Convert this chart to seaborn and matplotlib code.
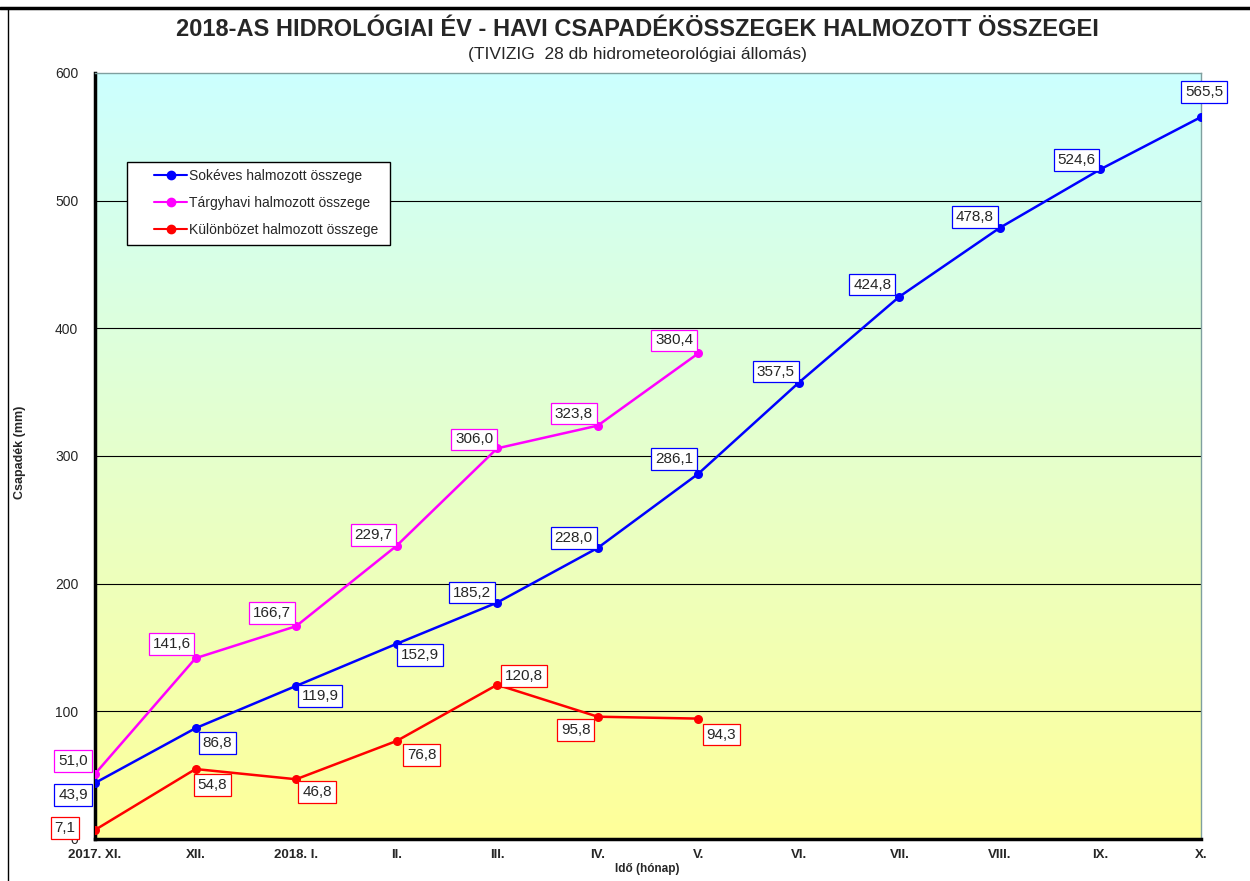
import numpy as np
import pandas as pd
import matplotlib
matplotlib.use("Agg")
import matplotlib.pyplot as plt
import seaborn as sns
from matplotlib.lines import Line2D
from matplotlib.patches import Rectangle
from matplotlib.colors import LinearSegmentedColormap

# ===================== 数据 =====================
honapok = ["2017. XI.", "XII.", "2018. I.", "II.", "III.", "IV.",
           "V.", "VI.", "VII.", "VIII.", "IX.", "X."]
sokeves = [43.9, 86.8, 119.9, 152.9, 185.2, 228.0, 286.1, 357.5, 424.8, 478.8, 524.6, 565.5]
targyhavi = [51.0, 141.6, 166.7, 229.7, 306.0, 323.8, 380.4]
kulonbseg = [7.1, 54.8, 46.8, 76.8, 120.8, 95.8, 94.3]

nev_sok = "Sokéves halmozott összege"
nev_targy = "Tárgyhavi halmozott összege"
nev_kul = "Különbözet halmozott összege"

# címke eltolások (pixel, felfelé pozitív)
off_sok = [(-22, -12), (22, -15), (24, -10), (23, -11), (-25, 10), (-24, 10),
           (-24, 15), (-23, 11), (-27, 12), (-25, 11), (-24, 9), (3, 25)]
off_targy = [(-22, 13), (-24, 14), (-24, 13), (-23, 11), (-23, 9), (-24, 12), (-24, 13)]
off_kul = [(-30, 2), (17, -16), (21, -13), (25, -14), (27, 9), (-22, -13), (23, -16)]

df = pd.concat([
    pd.DataFrame({"x": range(len(sokeves)), "y": sokeves, "sor": nev_sok}),
    pd.DataFrame({"x": range(len(targyhavi)), "y": targyhavi, "sor": nev_targy}),
    pd.DataFrame({"x": range(len(kulonbseg)), "y": kulonbseg, "sor": nev_kul}),
])
szinek = {nev_sok: "#0000FF", nev_targy: "#FF00FF", nev_kul: "#FF0000"}

sns.set_style("white")
plt.rcParams["font.family"] = ["Liberation Sans", "DejaVu Sans"]

W, H = 1250, 881
fig = plt.figure(figsize=(12.5, 8.81), dpi=100)
ax = fig.add_axes([95 / W, 1 - 839 / H, (1201 - 95) / W, (839 - 73) / H])

# háttér színátmenet
cmap = LinearSegmentedColormap.from_list("bg", ["#FFFF99", "#CCFFFF"])
grad = np.linspace(0, 1, 256).reshape(-1, 1)
ax.imshow(grad, extent=[0, 11, 0, 600], origin="lower", cmap=cmap,
          aspect="auto", zorder=0)

for v in range(100, 600, 100):
    ax.axhline(v, color="black", lw=0.8, zorder=1)

sns.lineplot(data=df, x="x", y="y", hue="sor", palette=szinek, marker="o",
             markersize=6.5, markeredgewidth=0, linewidth=1.8, sort=False,
             ax=ax, legend=False, zorder=3)

for adat, offs, nev in [(sokeves, off_sok, nev_sok), (targyhavi, off_targy, nev_targy),
                        (kulonbseg, off_kul, nev_kul)]:
    for i, (v, o) in enumerate(zip(adat, offs)):
        ax.annotate(f"{v:.1f}".replace(".", ","), (i, v), xytext=o,
                    textcoords="offset pixels", ha="center", va="center",
                    fontsize=11, zorder=5,
                    bbox=dict(boxstyle="square,pad=0.25", fc="white",
                              ec=szinek[nev], lw=0.9))

ax.set_xlim(0, 11)
ax.set_ylim(0, 600)
ax.set_xticks(range(len(honapok)))
ax.set_xticklabels(honapok, fontsize=9.5, fontweight="bold")
ax.set_yticks(range(0, 700, 100))
ax.tick_params(axis="y", labelsize=10, direction="out", length=4, width=1.5, pad=8)
ax.tick_params(axis="x", direction="out", length=3, width=1.5, pad=4)
ax.set_xlabel("")
ax.set_ylabel("")

for s in ["left", "bottom"]:
    ax.spines[s].set_linewidth(2.5)
    ax.spines[s].set_color("black")
for s in ["top", "right"]:
    ax.spines[s].set_linewidth(1)
    ax.spines[s].set_color("#7F9F9F")

# jelmagyarázat kézi kerettel
fig.add_artist(Rectangle((127 / W, 1 - 245 / H), (390 - 127) / W, (245 - 162) / H,
                         transform=fig.transFigure, fc="white", ec="black", lw=1, zorder=4))
handles = [Line2D([], [], color=szinek[n], marker="o", lw=1.5, markersize=6)
           for n in [nev_sok, nev_targy, nev_kul]]
leg = fig.legend(handles, [nev_sok, nev_targy, nev_kul], loc="upper left",
                 bbox_to_anchor=(154 / W, 1 - 169 / H), fontsize=10,
                 frameon=False, borderpad=0, labelspacing=0.92, handlelength=2.4,
                 handletextpad=0.15, borderaxespad=0)
leg.set_zorder(5)

fig.text(637 / W, 1 - 30 / H,
         "2018-AS HIDROLÓGIAI ÉV - HAVI CSAPADÉKÖSSZEGEK HALMOZOTT ÖSSZEGEI",
         ha="center", va="center", fontsize=17, fontweight="bold")
fig.text(637 / W, 1 - 55 / H, "(TIVIZIG  28 db hidrometeorológiai állomás)",
         ha="center", va="center", fontsize=12.5)
fig.text(647 / W, 1 - 869 / H, "Idő (hónap)", ha="center", va="center",
         fontsize=8.5, fontweight="bold")
fig.text(20 / W, 1 - 452 / H, "Csapadék (mm)", ha="center", va="center",
         rotation=90, fontsize=9, fontweight="bold")

# külső keret
fig.add_artist(Line2D([0, 1], [1 - 8 / H] * 2, color="black", lw=2.5))
fig.add_artist(Line2D([8 / W] * 2, [0, 1 - 8 / H], color="black", lw=1))

fig.savefig("out.png", dpi=100)
